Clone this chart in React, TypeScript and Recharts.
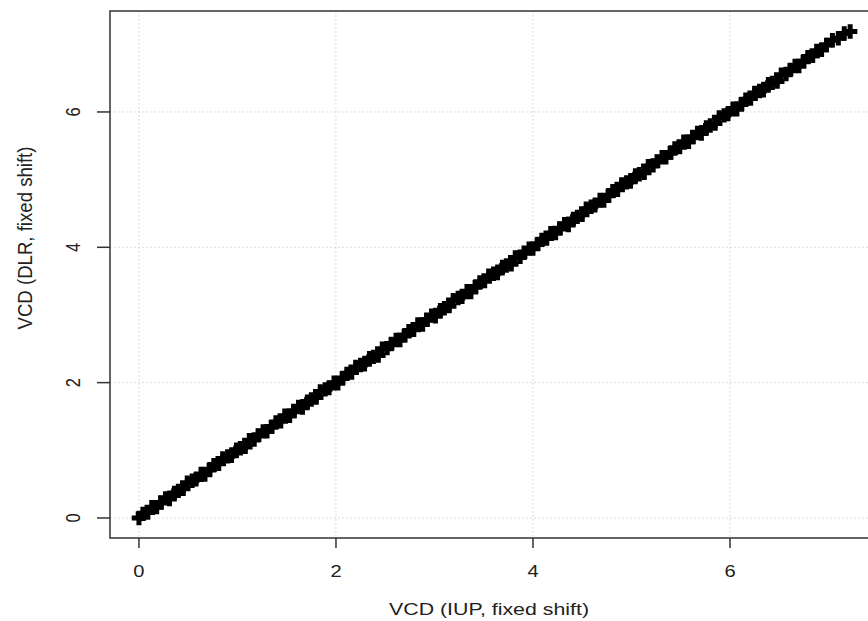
import React from 'react';
import {
  ScatterChart,
  Scatter,
  XAxis,
  YAxis,
  CartesianGrid,
  ReferenceArea,
} from 'recharts';

// VCD (IUP, fixed shift) -- x values
const iupVcd = [
  0.0, 0.04, 0.09, 0.13, 0.18, 0.22, 0.27, 0.31, 0.36, 0.4,
  0.45, 0.49, 0.54, 0.58, 0.63, 0.67, 0.72, 0.76, 0.81, 0.85,
  0.9, 0.94, 0.99, 1.03, 1.08, 1.12, 1.17, 1.21, 1.26, 1.3,
  1.35, 1.39, 1.44, 1.48, 1.53, 1.57, 1.62, 1.66, 1.71, 1.75,
  1.8, 1.84, 1.89, 1.93, 1.98, 2.02, 2.07, 2.11, 2.16, 2.2,
  2.25, 2.29, 2.34, 2.38, 2.43, 2.47, 2.52, 2.56, 2.61, 2.65,
  2.7, 2.74, 2.79, 2.83, 2.88, 2.92, 2.97, 3.01, 3.06, 3.1,
  3.15, 3.19, 3.24, 3.28, 3.33, 3.37, 3.42, 3.46, 3.51, 3.55,
  3.6, 3.64, 3.69, 3.73, 3.78, 3.82, 3.87, 3.91, 3.96, 4.0,
  4.05, 4.09, 4.14, 4.18, 4.23, 4.27, 4.32, 4.36, 4.41, 4.45,
  4.5, 4.54, 4.59, 4.63, 4.68, 4.72, 4.77, 4.81, 4.86, 4.9,
  4.95, 4.99, 5.04, 5.08, 5.13, 5.17, 5.22, 5.26, 5.31, 5.35,
  5.4, 5.44, 5.49, 5.53, 5.58, 5.62, 5.67, 5.71, 5.76, 5.8,
  5.85, 5.89, 5.94, 5.98, 6.03, 6.07, 6.12, 6.16, 6.21, 6.25,
  6.3, 6.34, 6.39, 6.43, 6.48, 6.52, 6.57, 6.61, 6.66, 6.7,
  6.75, 6.79, 6.84, 6.88, 6.93, 6.98, 7.04, 7.1, 7.16, 7.22,
];

// VCD (DLR, fixed shift) -- matching y values
const dlrVcd = [
  0.0, 0.06, 0.08, 0.16, 0.16, 0.23, 0.29, 0.28, 0.37, 0.4,
  0.43, 0.52, 0.55, 0.57, 0.65, 0.64, 0.72, 0.78, 0.8, 0.88,
  0.91, 0.92, 1.01, 1.03, 1.05, 1.15, 1.16, 1.22, 1.28, 1.28,
  1.35, 1.41, 1.43, 1.51, 1.51, 1.58, 1.64, 1.63, 1.72, 1.75,
  1.78, 1.87, 1.9, 1.92, 2.0, 1.99, 2.07, 2.13, 2.15, 2.23,
  2.26, 2.27, 2.36, 2.38, 2.4, 2.5, 2.51, 2.57, 2.63, 2.63,
  2.7, 2.76, 2.78, 2.86, 2.86, 2.93, 2.99, 2.98, 3.07, 3.1,
  3.13, 3.22, 3.25, 3.27, 3.35, 3.34, 3.42, 3.48, 3.5, 3.58,
  3.61, 3.62, 3.71, 3.73, 3.75, 3.85, 3.86, 3.92, 3.98, 3.98,
  4.05, 4.11, 4.13, 4.21, 4.21, 4.28, 4.34, 4.33, 4.42, 4.45,
  4.48, 4.57, 4.6, 4.62, 4.7, 4.69, 4.77, 4.83, 4.85, 4.93,
  4.96, 4.97, 5.06, 5.08, 5.1, 5.2, 5.21, 5.27, 5.33, 5.33,
  5.4, 5.46, 5.48, 5.56, 5.56, 5.63, 5.69, 5.68, 5.77, 5.8,
  5.83, 5.92, 5.95, 5.97, 6.05, 6.04, 6.12, 6.18, 6.2, 6.28,
  6.31, 6.32, 6.41, 6.43, 6.45, 6.55, 6.56, 6.62, 6.68, 6.68,
  6.75, 6.81, 6.83, 6.9, 6.92, 6.99, 7.06, 7.09, 7.16, 7.19,
];

const xTicks = [0, 2, 4, 6];
const yTicks = [0, 2, 4, 6];
const xDomain = [-0.294, 7.523];
const yDomain = [-0.296, 7.492];

const points = iupVcd.map((x, i) => ({ x, y: dlrVcd[i] }));

const FONT = '"Liberation Sans", Arial, Helvetica, sans-serif';
const INK = '#222';
const STRETCH = 1.22; // the reference text is a bit wide

// R's pch = 3, drawn heavy so the dense run of points reads as a solid band
const PlusShape = (props: any) => {
  const { cx, cy } = props;
  if (cx == null || cy == null) return null;
  const h = 7.2;
  return (
    <path
      d={`M${cx - h},${cy}H${cx + h}M${cx},${cy - h}V${cy + h}`}
      stroke="#000"
      strokeWidth={5}
      fill="none"
    />
  );
};

const XTick = (props: any) => {
  const { x, y, payload } = props;
  return (
    <text
      transform={`translate(${x},${y + 27}) scale(${STRETCH},1)`}
      textAnchor="middle"
      fontFamily={FONT}
      fontSize={16.5}
      fill={INK}
    >
      {payload.value}
    </text>
  );
};

const YTick = (props: any) => {
  const { x, y, payload } = props;
  return (
    <text
      transform={`translate(${x - 15},${y}) rotate(-90) scale(1,${STRETCH})`}
      textAnchor="middle"
      fontFamily={FONT}
      fontSize={16.5}
      fill={INK}
    >
      {payload.value}
    </text>
  );
};

const XTitle = () => (
  <text
    x={489}
    y={615}
    textAnchor="middle"
    fontFamily={FONT}
    fontSize={16.5}
    fill={INK}
    textLength={200}
    lengthAdjust="spacingAndGlyphs"
  >
    VCD (IUP, fixed shift)
  </text>
);

const YTitle = () => (
  <text
    transform={`translate(32,238) rotate(-90) scale(1,${STRETCH})`}
    textAnchor="middle"
    fontFamily={FONT}
    fontSize={16.5}
    fill={INK}
    textLength={183}
    lengthAdjust="spacingAndGlyphs"
  >
    VCD (DLR, fixed shift)
  </text>
);

export default function App() {
  return (
    <div
      style={{
        position: 'absolute',
        left: 0,
        top: 0,
        width: 868,
        height: 621,
        overflow: 'hidden',
        background: '#fff',
      }}
    >
      <ScatterChart
        width={880}
        height={621}
        margin={{ top: 11, right: 0, left: 0, bottom: 0 }}
      >
        <CartesianGrid
          stroke="#cfcfcf"
          strokeDasharray="1.5 2.5"
          horizontalValues={yTicks}
          verticalValues={xTicks}
        />
        <XAxis
          type="number"
          dataKey="x"
          domain={xDomain}
          ticks={xTicks}
          allowDataOverflow
          axisLine={false}
          tickSize={10}
          tickLine={{ stroke: '#333', strokeWidth: 1.5 }}
          tick={<XTick />}
          height={83}
          label={{ content: () => <XTitle /> }}
        />
        <YAxis
          type="number"
          dataKey="y"
          domain={yDomain}
          ticks={yTicks}
          allowDataOverflow
          axisLine={false}
          tickSize={13}
          tickLine={{ stroke: '#333', strokeWidth: 1.5 }}
          tick={<YTick />}
          width={110}
          label={{ content: () => <YTitle /> }}
        />
        <Scatter
          data={points}
          shape={<PlusShape />}
          isAnimationActive={false}
        />
        <ReferenceArea
          x1={xDomain[0]}
          x2={xDomain[1]}
          y1={yDomain[0]}
          y2={yDomain[1]}
          fill="none"
          stroke="#333"
          strokeWidth={1.5}
          ifOverflow="visible"
        />
      </ScatterChart>
    </div>
  );
}
